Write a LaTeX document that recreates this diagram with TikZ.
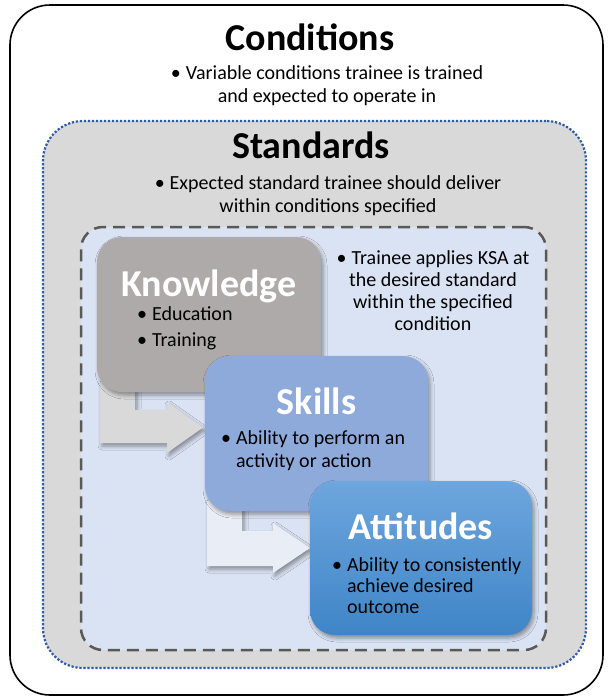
\documentclass[tikz,border=0pt]{standalone}
\usepackage{fontspec}
\setmainfont{Carlito}
\usetikzlibrary{shadows.blur,calc}
\definecolor{stdfill}{HTML}{D9D9D9}
\definecolor{dotblue}{HTML}{2E5AA6}
\definecolor{ksafill}{HTML}{DAE3F3}
\definecolor{dashgray}{HTML}{595959}
\definecolor{knowfill}{HTML}{AEAAAA}
\definecolor{skillfill}{HTML}{8EAADB}
\definecolor{atttop}{HTML}{6EA6DE}
\definecolor{attbot}{HTML}{3F85C7}
\definecolor{arrowone}{HTML}{D9D9D9}
\definecolor{arrowtwo}{HTML}{E9EDF5}
\newcommand{\bul}{\textbullet\hspace{5pt}}
\newcommand{\bulph}{\phantom{\textbullet}\hspace{5pt}}
\begin{document}
\begin{tikzpicture}[x=1pt,y=-1pt,
  softshadow/.style={blur shadow={shadow xshift=2pt, shadow yshift=-3pt, shadow blur radius=4pt, shadow opacity=40}},
  outerbox/.style={draw=black, line width=1.6pt, rounded corners=40pt, fill=white, inner sep=0pt},
  stdbox/.style={draw=dotblue, line width=2.2pt, dash pattern=on 2.2pt off 1.8pt, rounded corners=40pt, fill=stdfill, inner sep=0pt},
  ksabox/.style={draw=dashgray, line width=2.5pt, dash pattern=on 12pt off 7pt, rounded corners=22pt, fill=ksafill, inner sep=0pt},
  card/.style={rounded corners=25pt, inner sep=0pt, softshadow},
  bigtitle/.style={font=\fontsize{38}{44}\selectfont\bfseries, inner sep=0pt, anchor=base},
  body/.style={font=\fontsize{20}{23.5}\selectfont, inner sep=0pt, anchor=north},
  arrowshape/.style={softshadow}
]
\useasboundingbox (0,0) rectangle (610,699);

\node[outerbox, minimum width=593pt, minimum height=690pt] (cond) at (306.5,350) {};
\node[stdbox, minimum width=543pt, minimum height=547pt] (std) at (314.5,394.5) {};
\node[ksabox, minimum width=465pt, minimum height=423pt] (ksa) at (313.5,438.5) {};

% arrow Knowledge -> Skills
\coordinate (k0) at (97,392);
\fill[arrowone, arrowshape] ($(k0)+(3,-10)$) -- ++(0,61) -- ++(67,0) -- ++(0,10) -- ++(36,-25.5) -- ++(-36,-25.5) -- ++(0,8) -- ++(-32,0) -- ++(0,-28) -- cycle;

\node[card, fill=knowfill, minimum width=224pt, minimum height=155pt] (know) at (209,314.5) {};

% arrow Skills -> Attitudes
\coordinate (s0) at (205,511);
\fill[arrowtwo, arrowshape] ($(s0)+(2,-10)$) -- ++(0,65) -- ++(66,0) -- ++(0,7) -- ++(37,-25) -- ++(-37,-25) -- ++(0,8) -- ++(-31,0) -- ++(0,-30) -- cycle;

\node[card, fill=skillfill, minimum width=223pt, minimum height=155pt] (skills) at (316.5,433.5) {};
\node[card, top color=atttop, bottom color=attbot, minimum width=222pt, minimum height=154pt] (att) at (421,558) {};

% titles
\node[bigtitle] (condt) at (310,50) {Conditions};
\node[bigtitle] (stdt) at (311,158) {Standards};
\node[bigtitle, text=white] (knowt) at (209,296) {Knowledge};
\node[bigtitle, text=white] (skillt) at (316.5,414) {Skills};
\node[bigtitle, text=white] (attt) at (421,539) {Attitudes};

% body texts
\node[body, align=center] (condb) at (327,65) {\bul Variable conditions trainee is trained\\and expected to operate in};
\node[body, align=center] (stdb) at (328,175) {\bul Expected standard trainee should deliver\\within conditions specified};
\node[body, align=center, font=\fontsize{20}{22}\selectfont] (ksab) at (433,250) {\bul Trainee applies KSA at\\the desired standard\\within the specified\\condition};
\node[body, align=left, anchor=north west] (knowb) at (137,306) {\bul Education\\[2.5pt]\bul Training};
\node[body, align=left, anchor=north west] (skillb) at (221,430) {\bul Ability to perform an\\\bulph activity or action};
\node[body, align=left, anchor=north west, font=\fontsize{20}{21.2}\selectfont] (attb) at (332,557) {\bul Ability to consistently\\\bulph achieve desired\\\bulph outcome};
\end{tikzpicture}
\end{document}
